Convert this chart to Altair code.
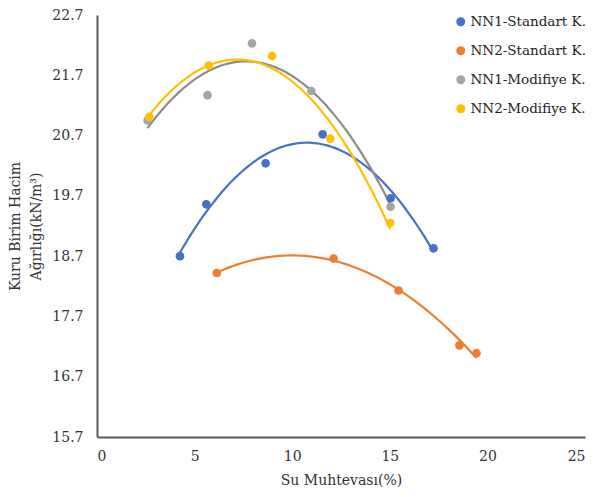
import altair as alt
import pandas as pd

series_names = ["NN1-Standart K.", "NN2-Standart K.", "NN1-Modifiye K.", "NN2-Modifiye K."]
colors = ["#4472C4", "#ED7D31", "#A5A5A5", "#FFC000"]
line_colors = ["#4472C4", "#ED7D31", "#8C8C8C", "#FFC000"]

nn1_std_x = [4.25, 5.6, 8.64, 11.56, 15.04, 17.24]
nn1_std_y = [18.70, 19.56, 20.24, 20.72, 19.66, 18.83]
nn2_std_x = [6.14, 12.12, 15.45, 18.57, 19.44]
nn2_std_y = [18.42, 18.66, 18.13, 17.22, 17.09]
nn1_mod_x = [2.59, 5.66, 7.94, 10.98, 15.04]
nn1_mod_y = [20.95, 21.37, 22.23, 21.44, 19.52]
nn2_mod_x = [2.68, 5.73, 8.97, 11.95, 15.02]
nn2_mod_y = [21.01, 21.86, 22.02, 20.65, 19.25]

x_ticks = [0, 5, 10, 15, 20, 25]
y_ticks = [15.7, 16.7, 17.7, 18.7, 19.7, 20.7, 21.7, 22.7]

rows = []
for name, xs, ys in zip(series_names,
                        [nn1_std_x, nn2_std_x, nn1_mod_x, nn2_mod_x],
                        [nn1_std_y, nn2_std_y, nn1_mod_y, nn2_mod_y]):
    for xv, yv in zip(xs, ys):
        rows.append({"series": name, "x": xv, "y": yv})
df = pd.DataFrame(rows)

FONT = "DejaVu Serif"

x_enc = alt.X("x:Q", scale=alt.Scale(domain=[0, 25], nice=False),
              axis=alt.Axis(values=x_ticks, title="Su Muhtevası(%)", grid=False, ticks=False,
                            labelPadding=12, titlePadding=10))
y_enc = alt.Y("y:Q", scale=alt.Scale(domain=[15.7, 22.7], nice=False, zero=False),
              axis=alt.Axis(values=y_ticks, format=".1f", title=["Kuru Birim Hacim", "Ağırlığı(kN/m³)"],
                            grid=False, ticks=False, labelPadding=14, titlePadding=8,
                            titleLineHeight=21))

points = alt.Chart(df).mark_circle(size=75, opacity=1).encode(
    x=x_enc, y=y_enc,
    color=alt.Color("series:N", scale=alt.Scale(domain=series_names, range=colors),
                    legend=alt.Legend(title=None, orient="none", legendX=357, legendY=0,
                                      labelFontSize=13.5, labelFont=FONT, labelColor="#222222",
                                      symbolSize=80, symbolType="circle", rowPadding=14,
                                      labelOffset=3, labelLimit=200))
)

lines = alt.Chart(df).transform_regression(
    "x", "y", method="poly", order=2, groupby=["series"]
).mark_line(strokeWidth=2.2).encode(
    x="x:Q", y="y:Q",
    color=alt.Color("series:N", scale=alt.Scale(domain=series_names, range=line_colors), legend=None)
)

chart = alt.layer(lines, points).resolve_scale(color="independent").properties(
    width=488, height=422,
    autosize=alt.AutoSizeParams(type="none"),
    padding={"left": 89, "top": 7, "right": 3, "bottom": 52}
).configure_view(stroke=None).configure_axis(
    domainColor="#595959", domainWidth=2, labelFont=FONT, labelFontSize=14, labelColor="#333333",
    titleFont=FONT, titleFontSize=14, titleFontWeight="normal", titleColor="#333333"
)

chart.save("out.html", embed_options={"renderer": "svg", "actions": False})
